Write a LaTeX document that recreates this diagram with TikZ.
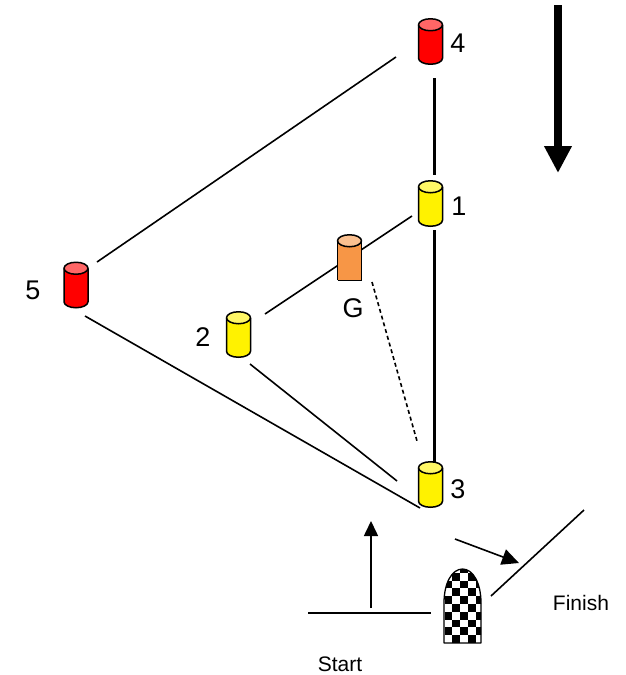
\documentclass[tikz,border=0pt]{standalone}
\usepackage{fontspec}
\setmainfont{Liberation Sans}
\usetikzlibrary{arrows.meta}
\definecolor{goalbody}{RGB}{247,150,70}
\definecolor{goaltop}{RGB}{250,192,144}
\tikzset{
	pics/pylon/.style n args={2}{code={
		\coordinate (-centre) at (0,0);
		\filldraw[fill=#1,line width=1.5pt] (-12,-16.75)--(-12,16.75) arc[start angle=180,end angle=0,x radius=12,y radius=6]--(12,-16.75);
		\filldraw[fill=#2,line width=1.5pt] (0,-16.75) ellipse[x radius=12,y radius=6];
	}},
	num/.style={inner sep=0pt, font=\fontsize{27}{30}\selectfont},
	small/.style={inner sep=0pt, font=\fontsize{21}{24}\selectfont},
}
\begin{document}
\begin{tikzpicture}[line join=round, x=1pt, y=-1pt, >={Triangle[length=15pt,width=14pt]}, line width=1.6pt]
			\useasboundingbox (0,0) rectangle (625,675);
			% free ends of the legs
			\foreach \n/\x/\y in {a1/434.5/78, a2/434.5/175, b1/434.5/230, b2/434.5/465, c1/396/57, c2/97/262, d1/85/316, d2/420/508, e1/250/364, e2/397/481, f1/412/216, f2/265/314, g1/372/282, g2/417/441, h1/455/539, h2/519/563, i1/584/510, i2/491/596, j1/308/613, j2/431/613, k1/371/608, k2/371/521, m1/558/5, m2/558/173}
			\coordinate (\n) at (\x,\y);
			\draw[line width=2.4pt] (a1)--(a2);
			\draw[line width=2.4pt] (b1)--(b2);
			\draw (c1)--(c2);
			\draw (d1)--(d2);
			\draw (e1)--(e2);
			\draw (f1)--(f2);
			\draw[dashed,dash pattern=on 4pt off 3pt] (g1)--(g2);
			\draw[-{Triangle[length=17pt,width=16pt]}] (h1)--(h2);
			\draw (i1)--(i2);
			\draw (j1)--(j2);
			\draw[->] (k1)--(k2);
			\draw[-{Triangle[length=27pt,width=26pt]},line width=8pt] (m1)--(m2);
			% pylons
			\foreach \n/\x/\y/\cb/\ct in {four/430.5/41.5/red/red!60!white, one/430.5/203.5/yellow/yellow!60!white, three/430.5/484.5/yellow/yellow!60!white, five/76/285/red/red!60!white, two/238.5/334.5/yellow/yellow!60!white}
			\pic (\n) at (\x,\y) {pylon={\cb}{\ct}};
			\fill[goalbody] (337.5,240.75) rectangle (361.5,280);
			\draw[line width=1.5pt] (337.5,240.75)--(337.5,280);
			\draw[line width=1.5pt] (361.5,240.75)--(361.5,280);
			\draw[line width=.7pt] (337.5,280)--(361.5,280);
			\filldraw[fill=goaltop,line width=1.5pt] (349.5,240.75) ellipse[x radius=12,y radius=6];
			% labels
			\node[num] (l4) at (458,43) {4};
			\node[num] (l1) at (459,206) {1};
			\node[num] (l3) at (458,489) {3};
			\node[num] (l5) at (33,290) {5};
			\node[num] (l2) at (203,337) {2};
			\node[num] (lG) at (353,308) {G};
			\node[small] (lf) at (581,603) {Finish};
			\node[small] (ls) at (340,664) {Start};
			% flag
			\begin{scope}
				\clip (444,643)--(444,603) .. controls (444,583) and (452,569) .. (462.5,569) .. controls (473,569) and (481,583) .. (481,603)--(481,643)--cycle;
				\foreach \i in {0,...,4}
				\foreach \j in {0,...,9}{
					\pgfmathtruncatemacro{\p}{mod(\i+\j,2)}
					\ifnum\p=1
					\fill (444.5+\i*7.8,643-\j*7.8) rectangle ++(7.8,-7.8);
					\fi
				}
			\end{scope}
			\draw[line width=1.3pt] (444,643)--(444,603) .. controls (444,583) and (452,569) .. (462.5,569) .. controls (473,569) and (481,583) .. (481,603)--(481,643)--cycle;
	\end{tikzpicture}
\end{document}
